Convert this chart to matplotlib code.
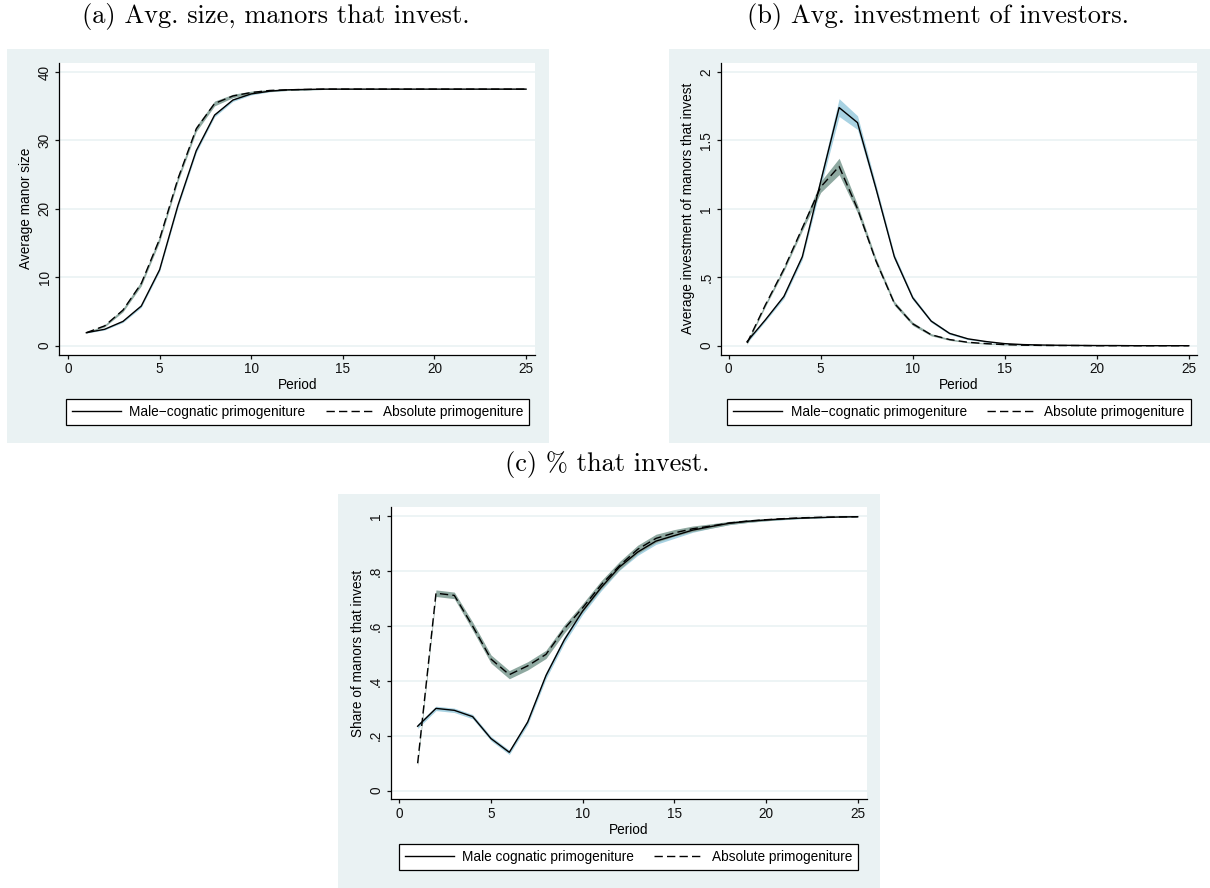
import matplotlib
matplotlib.use("Agg")
import matplotlib.pyplot as plt
from matplotlib.lines import Line2D
from matplotlib.patches import Rectangle
import numpy as np

plt.rcParams['font.family'] = ['Liberation Sans', 'DejaVu Sans']

# data
period = list(range(1, 26))

size_male = [1.9, 2.4, 3.55, 5.8, 11.1, 20.5, 28.5, 33.7, 35.9, 36.8, 37.2, 37.4, 37.45,
             37.5, 37.5, 37.5, 37.5, 37.5, 37.5, 37.5, 37.5, 37.5, 37.5, 37.5, 37.5]
size_abs = [1.9, 2.9, 5.2, 9.1, 15.6, 24.4, 31.7, 35.4, 36.5, 37.0, 37.3, 37.4, 37.45,
            37.5, 37.5, 37.5, 37.5, 37.5, 37.5, 37.5, 37.5, 37.5, 37.5, 37.5, 37.5]
size_male_ci = [0.05, 0.1, 0.15, 0.2, 0.25, 0.3, 0.3, 0.25, 0.2, 0.15, 0.1, 0.08, 0.05,
                0.05, 0.05, 0.05, 0.05, 0.05, 0.05, 0.05, 0.05, 0.05, 0.05, 0.05, 0.05]
size_abs_ci = [0.05, 0.15, 0.25, 0.35, 0.4, 0.4, 0.4, 0.35, 0.25, 0.2, 0.15, 0.1, 0.08,
               0.05, 0.05, 0.05, 0.05, 0.05, 0.05, 0.05, 0.05, 0.05, 0.05, 0.05, 0.05]

inv_male = [0.03, 0.19, 0.36, 0.65, 1.20, 1.74, 1.63, 1.15, 0.65, 0.35, 0.18, 0.09, 0.05,
            0.03, 0.015, 0.008, 0.005, 0.003, 0.002, 0.001, 0.001, 0.0, 0.0, 0.0, 0.0]
inv_abs = [0.02, 0.30, 0.56, 0.86, 1.16, 1.31, 1.00, 0.62, 0.31, 0.16, 0.08, 0.045, 0.025,
           0.015, 0.008, 0.004, 0.002, 0.001, 0.001, 0.0, 0.0, 0.0, 0.0, 0.0, 0.0]
inv_male_ci = [0.01, 0.01, 0.015, 0.02, 0.04, 0.065, 0.05, 0.03, 0.02, 0.015, 0.01, 0.008, 0.006,
               0.004, 0.003, 0.002, 0.001, 0.001, 0.001, 0.0, 0.0, 0.0, 0.0, 0.0, 0.0]
inv_abs_ci = [0.01, 0.012, 0.015, 0.02, 0.04, 0.06, 0.03, 0.02, 0.015, 0.012, 0.008, 0.006, 0.004,
              0.003, 0.002, 0.001, 0.001, 0.0, 0.0, 0.0, 0.0, 0.0, 0.0, 0.0, 0.0]

share_male = [0.235, 0.30, 0.293, 0.27, 0.19, 0.14, 0.25, 0.42, 0.55, 0.655, 0.74, 0.815, 0.87,
              0.91, 0.93, 0.95, 0.963, 0.975, 0.982, 0.987, 0.991, 0.994, 0.996, 0.998, 0.999]
share_abs = [0.10, 0.72, 0.712, 0.60, 0.48, 0.423, 0.455, 0.497, 0.59, 0.667, 0.75, 0.82, 0.88,
             0.92, 0.94, 0.955, 0.965, 0.976, 0.983, 0.988, 0.992, 0.995, 0.997, 0.998, 0.999]
share_male_ci = [0.008, 0.008, 0.008, 0.008, 0.008, 0.008, 0.01, 0.012, 0.012, 0.012, 0.012, 0.012, 0.012,
                 0.012, 0.01, 0.008, 0.006, 0.005, 0.004, 0.003, 0.003, 0.002, 0.002, 0.001, 0.001]
share_abs_ci = [0.01, 0.012, 0.012, 0.015, 0.015, 0.015, 0.015, 0.015, 0.015, 0.015, 0.015, 0.015, 0.015,
                0.015, 0.012, 0.01, 0.008, 0.006, 0.005, 0.004, 0.003, 0.002, 0.002, 0.001, 0.001]

W, H = 1210, 888
BG = '#eaf2f3'
BLUE_CI = '#a8d2e2'
GREEN_CI = '#8fa9a1'
FS = 9.8
DASH = (6, 3)

fig = plt.figure(figsize=(W / 100, H / 100), dpi=100)


def fx(px):
    return px / W


def fy(py):
    return 1 - py / H


def bg_box(x0, y0, x1, y1):
    fig.patches.append(Rectangle((fx(x0), fy(y1)), fx(x1) - fx(x0), fy(y0) - fy(y1),
                                 transform=fig.transFigure, facecolor=BG, edgecolor='none', zorder=-10))


def panel(x0, y0, x1, y1, xlim, ylim, yticks, yticklabels, ylabel,
          male, male_ci, absol, abs_ci, legx, legy, male_label):
    ax = fig.add_axes([fx(x0), fy(y1), fx(x1) - fx(x0), fy(y0) - fy(y1)])
    ax.set_facecolor('white')
    p = np.array(period)
    m = np.array(male)
    mc = np.array(male_ci)
    a = np.array(absol)
    ac = np.array(abs_ci)
    ax.fill_between(p, m - mc, m + mc, color=BLUE_CI, lw=0, zorder=2)
    ax.fill_between(p, a - ac, a + ac, color=GREEN_CI, lw=0, zorder=3)
    ax.plot(p, m, color='black', lw=1.0, zorder=4)
    ax.plot(p, a, color='black', lw=1.0, dashes=DASH, zorder=5)
    ax.set_xlim(*xlim)
    ax.set_ylim(*ylim)
    ax.set_xticks([0, 5, 10, 15, 20, 25])
    ax.set_yticks(yticks)
    ax.set_yticklabels(yticklabels, rotation=90, va='center')
    ax.yaxis.grid(True, color=BG, lw=1.2)
    ax.set_axisbelow(True)
    for s in ['top', 'right']:
        ax.spines[s].set_visible(False)
    for s in ['left', 'bottom']:
        ax.spines[s].set_linewidth(0.9)
    ax.tick_params(direction='out', length=3, width=0.9, labelsize=FS, pad=2.5, colors='#111111')
    ax.set_xlabel('Period', fontsize=FS, labelpad=1.5)
    ax.set_ylabel(ylabel, fontsize=FS, labelpad=3)
    handles = [Line2D([], [], color='black', lw=1.0),
               Line2D([], [], color='black', lw=1.0, dashes=DASH)]
    leg = ax.legend(handles, [male_label, 'Absolute primogeniture'], ncol=2, loc='center',
                    bbox_to_anchor=(fx(legx), fy(legy)), bbox_transform=fig.transFigure,
                    fontsize=FS, handlelength=3.6, handletextpad=0.6, columnspacing=1.5,
                    borderpad=0.45, borderaxespad=0, fancybox=False, framealpha=1)
    leg.get_frame().set_edgecolor('black')
    leg.get_frame().set_linewidth(0.9)
    return ax


bg_box(7, 49, 549, 443)
bg_box(669, 49, 1210, 443)
bg_box(338, 494, 880, 888)

panel(59.3, 62.7, 535, 354.7, (-0.475, 25.49), (-1.315, 41.36),
      [0, 10, 20, 30, 40], ['0', '10', '20', '30', '40'], 'Average manor size',
      size_male, size_male_ci, size_abs, size_abs_ci, 297.5, 412,
      'Male\u2212cognatic primogeniture')

panel(721, 62.7, 1196.7, 354.7, (-0.418, 25.43), (-0.0658, 2.068),
      [0, 0.5, 1, 1.5, 2], ['0', '.5', '1', '1.5', '2'], 'Average investment of manors that invest',
      inv_male, inv_male_ci, inv_abs, inv_abs_ci, 959, 412,
      'Male\u2212cognatic primogeniture')

panel(390.7, 507.3, 866.7, 799.3, (-0.469, 25.49), (-0.0314, 1.0332),
      [0, 0.2, 0.4, 0.6, 0.8, 1], ['0', '.2', '.4', '.6', '.8', '1'], 'Share of manors that invest',
      share_male, share_male_ci, share_abs, share_abs_ci, 628.4, 856.7,
      'Male cognatic primogeniture')

title_font = dict(family=['cmr10', 'DejaVu Serif'], fontsize=19, ha='center', va='center')
fig.text(fx(276), fy(17), '(a) Avg. size, manors that invest.', **title_font)
fig.text(fx(938), fy(17), '(b) Avg. investment of investors.', **title_font)
fig.text(fx(607), fy(464), '(c) % that invest.', **title_font)

fig.savefig('out.png', dpi=100)
